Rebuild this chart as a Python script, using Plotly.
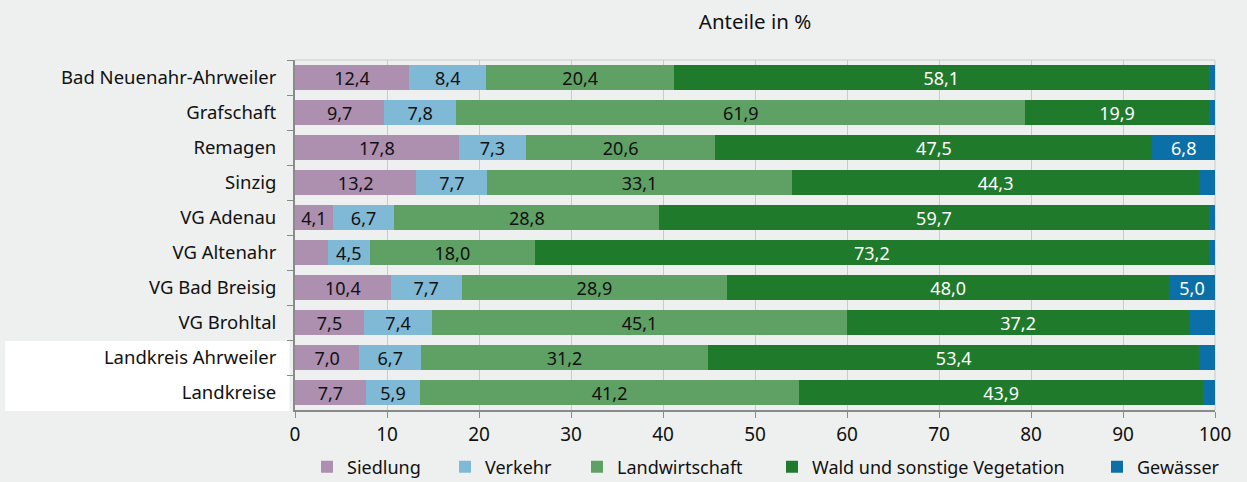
import plotly.graph_objects as go

categories = ["Bad Neuenahr-Ahrweiler", "Grafschaft", "Remagen", "Sinzig", "VG Adenau",
              "VG Altenahr", "VG Bad Breisig", "VG Brohltal", "Landkreis Ahrweiler", "Landkreise"]
siedlung = [12.4, 9.7, 17.8, 13.2, 4.1, 3.6, 10.4, 7.5, 7.0, 7.7]
verkehr = [8.4, 7.8, 7.3, 7.7, 6.7, 4.5, 7.7, 7.4, 6.7, 5.9]
landwirtschaft = [20.4, 61.9, 20.6, 33.1, 28.8, 18.0, 28.9, 45.1, 31.2, 41.2]
wald = [58.1, 19.9, 47.5, 44.3, 59.7, 73.2, 48.0, 37.2, 53.4, 43.9]
gewaesser = [0.7, 0.7, 6.8, 1.7, 0.7, 0.7, 5.0, 2.8, 1.7, 1.3]
x_ticks = [0, 10, 20, 30, 40, 50, 60, 70, 80, 90, 100]

series = [
    ("Siedlung", siedlung, "#ad8fb0", "#111111", 93),
    ("Verkehr", verkehr, "#80b9d6", "#111111", 87),
    ("Landwirtschaft", landwirtschaft, "#5fa065", "#111111", 150),
    ("Wald und sonstige Vegetation", wald, "#1f7a2b", "#ffffff", 280),
    ("Gewässer", gewaesser, "#0b70a8", "#ffffff", 84),
]

FONT = "Noto Sans"
BG = "#eef0ef"

fig = go.Figure()
for name, vals, color, tcolor, lw in series:
    texts = [f"{v:.1f}".replace(".", ",") if v >= 4 else "" for v in vals]
    fig.add_trace(go.Bar(
        name=name, y=categories, x=vals, orientation="h",
        marker=dict(color=color, line=dict(width=0)),
        text=texts, textposition="inside", insidetextanchor="middle",
        textangle=0, textfont=dict(color=tcolor, size=18, family=FONT),
        hoverinfo="x+y+name", legendwidth=lw,
    ))

fig.add_shape(type="rect", xref="paper", yref="paper",
              x0=-0.315, x1=-0.006, y0=-0.003, y1=0.197,
              fillcolor="white", line=dict(width=0), layer="below")

fig.update_layout(
    barmode="stack",
    bargap=0.26,
    width=1247, height=482,
    paper_bgcolor=BG, plot_bgcolor=BG,
    margin=dict(l=295, r=32, t=60, b=72, autoexpand=False),
    separators=",.",
    font=dict(family=FONT, size=18, color="#111111"),
    uniformtext=dict(minsize=18, mode="show"),
    title=dict(text="Anteile in %", x=0.6055, xanchor="center", y=0.955, yanchor="middle",
               font=dict(size=20.5, family=FONT, color="#111111")),
    legend=dict(orientation="h", xref="container", x=307 / 1247, xanchor="left",
                yref="container", y=15 / 482, yanchor="middle",
                font=dict(size=18, family=FONT), traceorder="normal",
                itemwidth=30, bgcolor="rgba(0,0,0,0)"),
    showlegend=True,
)
fig.update_xaxes(range=[0, 100], tickvals=x_ticks, ticktext=[str(t) for t in x_ticks],
                 showgrid=True, gridcolor="#c9cbca", gridwidth=1,
                 showline=True, linecolor="#8a8a8a", linewidth=2, mirror=False,
                 ticks="outside", ticklen=6, tickcolor="#8a8a8a", tickwidth=1,
                 tickfont=dict(size=19, family=FONT), zeroline=False, fixedrange=True,
                 automargin=False)
fig.update_yaxes(autorange="reversed", showgrid=False,
                 showline=True, linecolor="#8a8a8a", linewidth=2,
                 ticks="outside", ticklen=6, tickcolor="#8a8a8a", tickwidth=1,
                 tickson="boundaries", ticklabelstandoff=13,
                 tickfont=dict(size=18.5, family=FONT), fixedrange=True,
                 automargin=False)
fig.add_shape(type="line", xref="paper", yref="paper", x0=0, x1=1, y0=1, y1=1,
              line=dict(color="#c9cbca", width=1), layer="below")
fig.add_shape(type="line", xref="paper", yref="paper", x0=1, x1=1, y0=0, y1=1,
              line=dict(color="#c9cbca", width=1), layer="below")

fig.write_html("out.html", config={"displayModeBar": False},
               post_script="document.body.style.margin='0';document.body.style.background='%s';" % BG)
